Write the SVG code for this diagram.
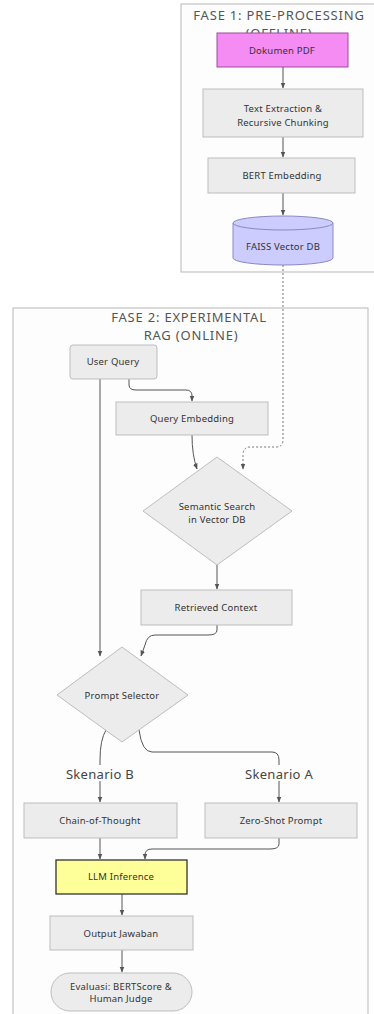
<svg xmlns="http://www.w3.org/2000/svg" width="374" height="1014" viewBox="0 0 374 1014">
<style>
text{font-family:"Noto Sans","Liberation Sans",sans-serif;fill:#333;text-anchor:middle}
.lbl{font-size:9.5px;letter-spacing:0.2px}
.ttl{font-size:13px;fill:#555;letter-spacing:0.8px}
.sk{font-size:13px;fill:#444;letter-spacing:0.3px}
.cl{fill:#fdfdfd;stroke:#b8b8b8;stroke-width:1}
.box{fill:#ececec;stroke:#bdbdbd;stroke-width:1}
.e{fill:none;stroke:#555;stroke-width:1}
.d{fill:none;stroke:#777;stroke-width:1;stroke-dasharray:2 2}
</style>
<defs>
<marker id="ah" viewBox="0 0 10 10" refX="9" refY="5" markerWidth="6" markerHeight="6" orient="auto"><path d="M0,1 L10,5 L0,9 z" fill="#555"/></marker>
</defs>
<rect width="374" height="1014" fill="#fff"/>
<g id="cluster1"><rect class="cl" x="181" y="4" width="200" height="268"/><text class="ttl" x="279" y="20">FASE 1: PRE-PROCESSING</text><text class="ttl" x="279" y="38">(OFFLINE)</text></g>
<g id="cluster2"><rect class="cl" x="13" y="308" width="355" height="710"/><text class="ttl" x="189" y="322">FASE 2: EXPERIMENTAL</text><text class="ttl" x="191" y="340">RAG (ONLINE)</text></g>
<g id="connectors">
<path class="e" d="M283,67 V88" marker-end="url(#ah)"/>
<path class="e" d="M283,137 V157" marker-end="url(#ah)"/>
<path class="e" d="M283,193 V215" marker-end="url(#ah)"/>
<path class="d" d="M283,265 V440 Q283,447 276,447 H250 Q243,447 243,455 V469" marker-end="url(#ah)"/>
<path class="e" d="M129,379 V385 Q129,390 136,390 H186 Q192,390 192,396 V401" marker-end="url(#ah)"/>
<path class="e" d="M100,379 V656" marker-end="url(#ah)"/>
<path class="e" d="M192,435 Q192,455 197,469" marker-end="url(#ah)"/>
<path class="e" d="M217,565 V589" marker-end="url(#ah)"/>
<path class="e" d="M217,625 V630 Q217,635 208,635 H155 Q147,635 145,645 L141,656" marker-end="url(#ah)"/>
<path class="e" d="M106,730 Q100,740 100,760 V802" marker-end="url(#ah)"/>
<path class="e" d="M139,730 Q142,752 152,752 H272 Q279,752 279,760 V802" marker-end="url(#ah)"/>
<path class="e" d="M100,838 V859" marker-end="url(#ah)"/>
<path class="e" d="M279,838 V844 Q279,849 270,849 H152 Q145,849 145,855 V859" marker-end="url(#ah)"/>
<path class="e" d="M122,894 V915" marker-end="url(#ah)"/>
<path class="e" d="M122,950 V972" marker-end="url(#ah)"/>
</g>
<g id="labels">
<rect x="60" y="765" width="80" height="16" fill="#fdfdfd"/><text class="sk" x="100" y="779">Skenario B</text>
<rect x="239" y="765" width="80" height="16" fill="#fdfdfd"/><text class="sk" x="279" y="779">Skenario A</text>
</g>
<g id="dokumen-pdf"><rect x="217" y="33" width="131" height="34" fill="#f48cf4" stroke="#9a4f9a"/><text class="lbl" x="282" y="54">Dokumen PDF</text></g>
<g id="text-extraction"><rect class="box" x="203" y="89" width="160" height="48"/><text class="lbl" x="283" y="112">Text Extraction &amp;</text><text class="lbl" x="283" y="126">Recursive Chunking</text></g>
<g id="bert-embedding"><rect class="box" x="208" y="158" width="147" height="35"/><text class="lbl" x="282" y="179">BERT Embedding</text></g>
<g id="faiss"><path d="M233,223 V258 A50,7 0 0 0 333,258 V223" fill="#ccccff" stroke="#8a8ac0"/><ellipse cx="283" cy="223" rx="50" ry="7" fill="#ccccff" stroke="#8a8ac0"/><text class="lbl" x="283" y="250">FAISS Vector DB</text></g>
<g id="user-query"><rect class="box" x="70" y="345" width="87" height="34" rx="3"/><text class="lbl" x="113" y="365">User Query</text></g>
<g id="query-embedding"><rect class="box" x="116" y="402" width="152" height="33"/><text class="lbl" x="192" y="422">Query Embedding</text></g>
<g id="semantic-search"><polygon class="box" points="217,457 292,511 217,565 143,511"/><text class="lbl" x="217" y="510">Semantic Search</text><text class="lbl" x="217" y="523">in Vector DB</text></g>
<g id="retrieved-context"><rect class="box" x="141" y="590" width="151" height="35"/><text class="lbl" x="216" y="611">Retrieved Context</text></g>
<g id="prompt-selector"><polygon class="box" points="122,647 188,695 122,742 57,695"/><text class="lbl" x="122" y="699">Prompt Selector</text></g>
<g id="chain-of-thought"><rect class="box" x="24" y="803" width="153" height="35"/><text class="lbl" x="100" y="824">Chain-of-Thought</text></g>
<g id="zero-shot"><rect class="box" x="205" y="803" width="152" height="35"/><text class="lbl" x="281" y="824">Zero-Shot Prompt</text></g>
<g id="llm-inference"><rect x="56" y="860" width="131" height="34" fill="#ffff99" stroke="#333" stroke-width="1.3"/><text class="lbl" x="121" y="880">LLM Inference</text></g>
<g id="output-jawaban"><rect class="box" x="50" y="916" width="143" height="34"/><text class="lbl" x="121" y="937">Output Jawaban</text></g>
<g id="evaluasi"><rect class="box" x="51" y="973" width="141" height="38" rx="19"/><text class="lbl" x="121" y="990">Evaluasi: BERTScore &amp;</text><text class="lbl" x="121" y="1002">Human Judge</text></g>
</svg>
